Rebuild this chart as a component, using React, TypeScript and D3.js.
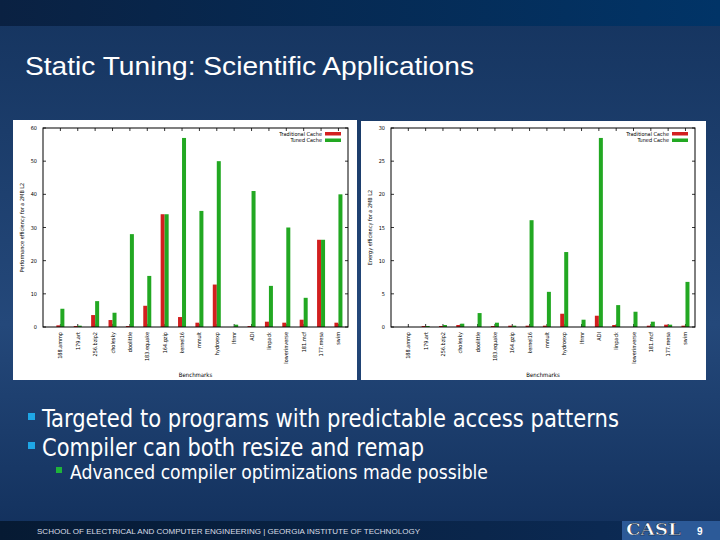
import React from 'react';
import * as d3 from 'd3';

// benchmark names along the x axis (shared by both charts)
const benchmarks = [
  '188.ammp', '179.art', '256.bzip2', 'cholesky', 'doolittle', '183.equake',
  '164.gzip', 'kernel16', 'mmult', 'hydroexp', 'lfrmr', 'ADI', 'linpack',
  'lowerinverse', '181.mcf', '177.mesa', 'swim',
];

// left chart: performance efficiency
const perfTraditional = [0.5, 0.3, 3.6, 2.1, 0.3, 6.4, 34, 3, 1.3, 12.8, 0, 0.3, 1.6, 1.3, 2.2, 26.3, 1.3];
const perfTuned = [5.5, 0.4, 7.8, 4.3, 28, 15.4, 34, 57, 35, 50, 0.7, 41, 12.4, 30, 8.8, 26.3, 40];
const perfTicks = [0, 10, 20, 30, 40, 50, 60];

// right chart: energy efficiency
const energyTraditional = [0, 0.15, 0.15, 0.3, 0, 0.15, 0.2, 0.2, 0.2, 2, 0, 1.7, 0.3, 0, 0.2, 0.35, 0.2];
const energyTuned = [0, 0.15, 0.3, 0.5, 2.1, 0.65, 0.2, 16.1, 5.3, 11.3, 1.1, 28.5, 3.3, 2.3, 0.8, 0.35, 6.8];
const energyTicks = [0, 5, 10, 15, 20, 25, 30];

const seriesNames = ['Traditional Cache', 'Tuned Cache'];
const RED = '#d21f1f';
const GREEN = '#22a822';

const bullets = [
  'Targeted to programs with predictable access patterns',
  'Compiler can both resize and remap',
];
const subBullets = ['Advanced compiler optimizations made possible'];

const chartFont = '"DejaVu Sans Condensed", "DejaVu Sans", sans-serif';

interface BarChartProps {
  left: number;
  right: number;
  top: number;
  bottom: number;
  traditional: number[];
  tuned: number[];
  ticks: number[];
  yLabel: string;
  yLabelX: number;
  tickLabelX: number;
}

const BarChart: React.FC<BarChartProps> = ({ left, right, top, bottom, traditional, tuned, ticks, yLabel, yLabelX, tickLabelX }) => {
  const x = d3.scaleLinear().domain([-1, benchmarks.length - 0.45]).range([left, right]);
  const y = d3.scaleLinear().domain([0, ticks[ticks.length - 1]]).range([bottom, top]);
  const bw = 4;

  return (
    <g fontFamily={chartFont} fill="#000">
      {/* y ticks, mirrored on the right */}
      {ticks.map(t => (
        <g key={'y' + t}>
          <line x1={left} x2={left + 3} y1={y(t)} y2={y(t)} stroke="#000" strokeWidth={0.8} />
          <line x1={right} x2={right - 3} y1={y(t)} y2={y(t)} stroke="#000" strokeWidth={0.8} />
          <text x={tickLabelX} y={y(t) + 2} fontSize={5.5} textAnchor="end">{t}</text>
        </g>
      ))}

      {/* x ticks, mirrored on top */}
      {benchmarks.map((b, i) => (
        <g key={'x' + b}>
          <line x1={x(i)} x2={x(i)} y1={bottom} y2={bottom - 3} stroke="#000" strokeWidth={0.8} />
          <line x1={x(i)} x2={x(i)} y1={top} y2={top + 3} stroke="#000" strokeWidth={0.8} />
          <text
            transform={`translate(${x(i) + 2},${bottom + 5}) rotate(-90)`}
            fontSize={5.5}
            textAnchor="end"
          >{b}</text>
        </g>
      ))}

      {/* bars */}
      {benchmarks.map((b, i) => (
        <g key={'bar' + b}>
          <rect x={x(i) - bw} y={y(traditional[i])} width={bw} height={bottom - y(traditional[i])} fill={RED} />
          <rect x={x(i)} y={y(tuned[i])} width={bw} height={bottom - y(tuned[i])} fill={GREEN} />
        </g>
      ))}

      {/* frame */}
      <rect x={left} y={top} width={right - left} height={bottom - top} fill="none" stroke="#000" strokeWidth={1} />

      {/* legend */}
      {seriesNames.map((s, i) => (
        <g key={s}>
          <text x={right - 26} y={top + 7.5 + i * 6.5} fontSize={5.5} textAnchor="end">{s}</text>
          <rect x={right - 23} y={top + 4 + i * 6.5} width={16} height={3.5} fill={i === 0 ? RED : GREEN} />
        </g>
      ))}

      <text x={(left + right) / 2} y={bottom + 50} fontSize={6} textAnchor="middle">Benchmarks</text>
      <text
        transform={`translate(${yLabelX},${(top + bottom) / 2}) rotate(-90)`}
        fontSize={5.5}
        textAnchor="middle"
      >{yLabel}</text>
    </g>
  );
};

const App: React.FC = () => {
  return (
    <svg width={720} height={540} style={{ position: 'absolute', left: 0, top: 0, display: 'block' }}>
      <defs>
        <linearGradient id="bgMain" x1="0" x2="0" y1="0" y2="1">
          <stop offset="0%" stopColor="#15345f" />
          <stop offset="60%" stopColor="#24487a" />
          <stop offset="100%" stopColor="#12305c" />
        </linearGradient>
        <linearGradient id="bgTop" x1="0" x2="1" y1="0" y2="0">
          <stop offset="0%" stopColor="#0a2142" />
          <stop offset="100%" stopColor="#013467" />
        </linearGradient>
        <linearGradient id="bgFoot" x1="0" x2="1" y1="0" y2="0">
          <stop offset="0%" stopColor="#061a33" />
          <stop offset="100%" stopColor="#0c2c58" />
        </linearGradient>
      </defs>

      <rect x={0} y={0} width={720} height={540} fill="url(#bgMain)" />
      <rect x={0} y={0} width={720} height={26} fill="url(#bgTop)" />

      <text x={25} y={75} fill="#fff" fontSize={26} fontFamily='"Liberation Sans", Arial, sans-serif'
        textLength={449} lengthAdjust="spacingAndGlyphs">Static Tuning: Scientific Applications</text>

      {/* chart panels */}
      <rect x={13} y={120} width={344} height={260} fill="#fff" />
      <rect x={361} y={121} width={345} height={259} fill="#fff" />

      <BarChart left={43} right={348} top={128} bottom={327}
        traditional={perfTraditional} tuned={perfTuned} ticks={perfTicks}
        yLabel="Performance efficiency for a 2MB L2" yLabelX={24} tickLabelX={37} />
      <BarChart left={391} right={695} top={128} bottom={327}
        traditional={energyTraditional} tuned={energyTuned} ticks={energyTicks}
        yLabel="Energy efficiency for a 2MB L2" yLabelX={372} tickLabelX={385} />

      {/* bullets */}
      <g fontFamily='"Liberation Sans Narrow", "DejaVu Sans Condensed", sans-serif' fill="#fff">
        {bullets.map((b, i) => (
          <g key={b}>
            <rect x={28} y={413 + i * 29} width={7} height={7} fill="#1ea6e6" />
            <text x={42} y={427 + i * 29} fontSize={24}
              textLength={i === 0 ? 577 : 382} lengthAdjust="spacingAndGlyphs">{b}</text>
          </g>
        ))}
        {subBullets.map(b => (
          <g key={b}>
            <rect x={56} y={467} width={6} height={6} fill="#1fb43a" />
            <text x={70} y={479} fontSize={19} textLength={418} lengthAdjust="spacingAndGlyphs">{b}</text>
          </g>
        ))}
      </g>

      {/* footer */}
      <rect x={0} y={521} width={720} height={19} fill="url(#bgFoot)" />
      <rect x={622} y={521} width={98} height={19} fill="#2c5a98" />
      <text x={37} y={534} fill="#d8dde6" fontSize={7.5} fontFamily='"Liberation Sans", Arial, sans-serif'
        textLength={383} lengthAdjust="spacingAndGlyphs">SCHOOL OF ELECTRICAL AND COMPUTER ENGINEERING | GEORGIA INSTITUTE OF TECHNOLOGY</text>
      <text x={626} y={535} fill="#fff" fontSize={16} fontWeight="bold" fontFamily='"DejaVu Serif", "Liberation Serif", serif'
        textLength={55} lengthAdjust="spacingAndGlyphs" stroke="#0a1a3a" strokeWidth={0.5}>CASL</text>
      <text x={697} y={535} fill="#fff" fontSize={10} fontWeight="bold" fontFamily='"Liberation Sans", Arial, sans-serif'>9</text>
    </svg>
  );
};

export default App;
